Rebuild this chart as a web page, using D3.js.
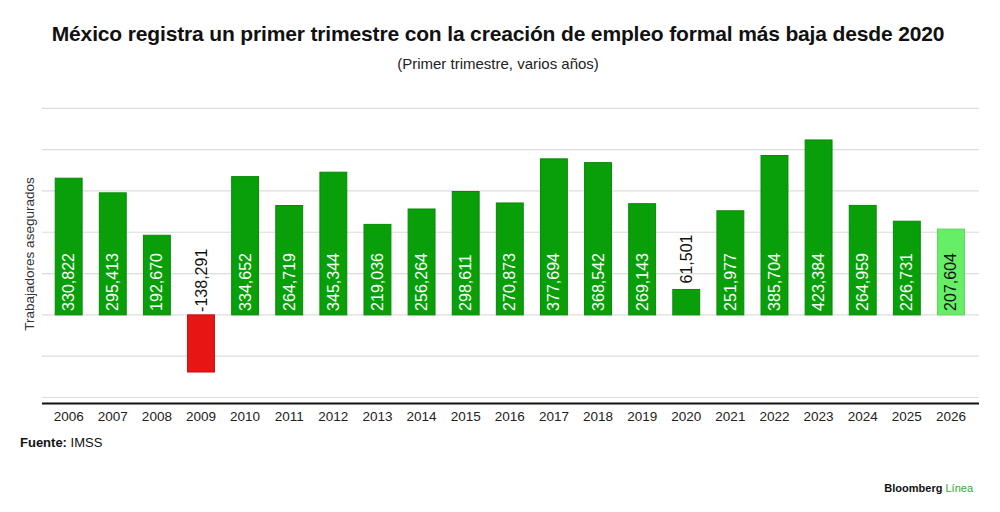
<!DOCTYPE html>
<html><head><meta charset="utf-8">
<script src="https://cdn.jsdelivr.net/npm/d3@7"></script>
<style>body{margin:0;background:#fff}svg{display:block}text{font-family:"Liberation Sans",Arial,sans-serif}</style>
</head><body><div id="chart"></div>
<script>
const years = ["2006","2007","2008","2009","2010","2011","2012","2013","2014","2015","2016","2017","2018","2019","2020","2021","2022","2023","2024","2025","2026"];
const values = [330822,295413,192670,-138291,334652,264719,345344,219036,256264,298611,270873,377694,368542,269143,61501,251977,385704,423384,264959,226731,207604];
const gridTicks = [-200000,-100000,0,100000,200000,300000,400000,500000];
const title = "México registra un primer trimestre con la creación de empleo formal más baja desde 2020";
const subtitle = "(Primer trimestre, varios años)";
const yLabel = "Trabajadores asegurados";

const W=1000,H=512;
const svg=d3.select("#chart").append("svg").attr("width",W).attr("height",H);
const x=d3.scaleBand().domain(years).range([46.6,973]).paddingInner(0.39).paddingOuter(0.195);
const y=d3.scaleLinear().domain([-214500,500000]).range([403.5,108.3]);

svg.append("text").attr("x",498).attr("y",41).attr("text-anchor","middle")
  .attr("font-size",21).attr("font-weight","bold").attr("fill","#111").attr("letter-spacing","-0.15").text(title);
svg.append("text").attr("x",498).attr("y",69).attr("text-anchor","middle")
  .attr("font-size",15).attr("fill","#222").text(subtitle);

// grid
svg.append("g").selectAll("line").data(gridTicks).join("line")
  .attr("x1",42).attr("x2",979).attr("y1",d=>y(d)).attr("y2",d=>y(d))
  .attr("stroke","#dcdcdc").attr("stroke-width",1.2);

// axis
const xa=svg.append("g").attr("transform",`translate(0,${y.range()[0]})`)
  .call(d3.axisBottom(x).tickSize(0).tickPadding(8));
xa.select(".domain").attr("d","M42,0H979").attr("stroke","#111").attr("stroke-width",2);
xa.selectAll("text").attr("font-size",13.5).attr("fill","#222").attr("font-family","Liberation Sans, Arial, sans-serif");

const data=years.map((yr,i)=>({yr,v:values[i]}));
const fill=d=>d.v<0?"#e81515":(d.yr==="2026"?"#66ee66":"#089f08");
const stroke=d=>d.v<0?"#c21010":(d.yr==="2026"?"#5ad85a":"#078a07");
svg.append("g").selectAll("rect").data(data).join("rect")
  .attr("x",d=>x(d.yr)).attr("width",x.bandwidth())
  .attr("y",d=>y(Math.max(0,d.v))).attr("height",d=>Math.abs(y(d.v)-y(0)))
  .attr("fill",fill).attr("stroke",stroke).attr("stroke-width",1);

const fmt=d3.formatLocale({decimal:".",thousands:",",grouping:[3],currency:["$",""],minus:"-"}).format(",");
svg.append("g").selectAll("text").data(data).join("text")
  .attr("transform",d=>{
    const cx=x(d.yr)+x.bandwidth()/2+5.5;
    let by;
    if(d.v<0) by=y(0)-3;
    else if(d.v<100000) by=y(d.v)-6;
    else by=y(0)-4;
    return `translate(${cx},${by}) rotate(-90)`;
  })
  .attr("text-anchor","start").attr("font-size",16)
  .attr("fill",d=>(d.v<100000||d.yr==="2026")?"#111":"#fff")
  .text(d=>fmt(d.v));

svg.append("text").attr("transform","translate(34,254) rotate(-90)").attr("text-anchor","middle")
  .attr("font-size",13.5).attr("fill","#333").text(yLabel);

const f=svg.append("text").attr("x",20).attr("y",447).attr("font-size",13).attr("fill","#111");
f.append("tspan").attr("font-weight","bold").text("Fuente:");
f.append("tspan").text(" IMSS");

const b=svg.append("text").attr("x",973).attr("y",492).attr("text-anchor","end").attr("font-size",11).attr("font-weight","bold").attr("fill","#111");
b.append("tspan").text("Bloomberg ");
b.append("tspan").attr("fill","#2fae2f").attr("font-weight","normal").text("Línea");
</script></body></html>
